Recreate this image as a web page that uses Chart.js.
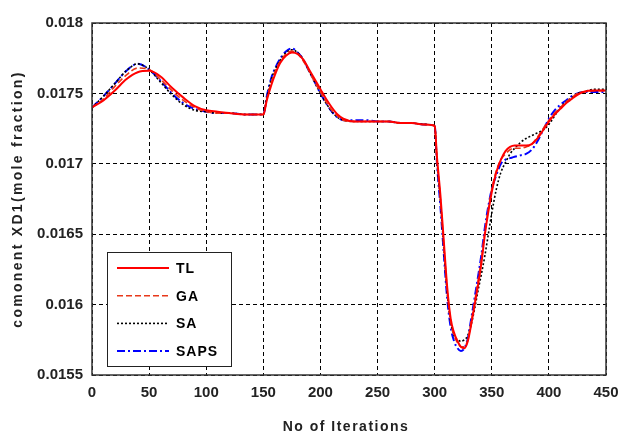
<!DOCTYPE html>
<html>
<head>
<meta charset="utf-8">
<script src="https://cdn.jsdelivr.net/npm/chart.js@4.4.1/dist/chart.umd.min.js"></script>
<style>
  html, body { margin: 0; padding: 0; background: #fff; }
  #wrap { width: 621px; height: 434px; }
</style>
</head>
<body>
<div id="wrap"><canvas id="xdChart" width="621" height="434"></canvas></div>
<script>
// iteration grid shared by all four runs
const iters = [0, 10, 20, 30, 40, 50, 60, 70, 80, 90, 100, 110, 120, 135, 150,
  153, 157, 161, 165, 170, 175, 180, 185, 190, 195, 200, 205, 210, 215, 220,
  230, 240, 250, 260, 270, 280, 290, 300, 302, 305, 308, 311, 314, 317, 320,
  323, 326, 329, 332, 335, 338, 341, 344, 347, 350, 354, 358, 362, 366, 370,
  375, 380, 385, 390, 395, 400, 405, 410, 415, 420, 425, 430, 440, 450];

const tl = [0.01740, 0.01745, 0.01752, 0.01760, 0.01765, 0.01766, 0.01762, 0.01754, 0.01747, 0.01741, 0.01738, 0.01737, 0.01736, 0.01735, 0.01735,
  0.01745, 0.01756, 0.01765, 0.01772, 0.01777, 0.01779, 0.01778, 0.01774, 0.01767, 0.01760, 0.01753, 0.01746, 0.01740, 0.01735, 0.01732,
  0.01730, 0.01730, 0.01730, 0.01730, 0.01729, 0.01729, 0.01728, 0.01727, 0.01705, 0.01678, 0.01645, 0.01612, 0.01590, 0.01580, 0.01574,
  0.01570, 0.01569, 0.01574, 0.01586, 0.01600, 0.01614, 0.01630, 0.01650, 0.01666, 0.01680, 0.01694, 0.01703, 0.01709, 0.01712, 0.01713,
  0.01713, 0.01713, 0.01714, 0.01718, 0.01724, 0.01730, 0.01735, 0.01739, 0.01743, 0.01746, 0.01749, 0.01751, 0.01752, 0.01752];

const ga = [0.01740, 0.01746, 0.01755, 0.01763, 0.01768, 0.01767, 0.01760, 0.01752, 0.01745, 0.01740, 0.01737, 0.01736, 0.01736, 0.01735, 0.01735,
  0.01746, 0.01758, 0.01767, 0.01773, 0.01778, 0.01780, 0.01778, 0.01773, 0.01766, 0.01758, 0.01751, 0.01744, 0.01738, 0.01734, 0.01731,
  0.01730, 0.01730, 0.01730, 0.01730, 0.01729, 0.01729, 0.01728, 0.01727, 0.01703, 0.01675, 0.01642, 0.01610, 0.01588, 0.01578, 0.01573,
  0.01570, 0.01570, 0.01575, 0.01588, 0.01602, 0.01617, 0.01633, 0.01652, 0.01668, 0.01682, 0.01695, 0.01703, 0.01707, 0.01710, 0.01711,
  0.01711, 0.01712, 0.01714, 0.01719, 0.01725, 0.01731, 0.01736, 0.01740, 0.01744, 0.01747, 0.01750, 0.01751, 0.01752, 0.01752];

const sa = [0.01740, 0.01748, 0.01757, 0.01766, 0.01771, 0.01767, 0.01758, 0.01749, 0.01742, 0.01738, 0.01737, 0.01736, 0.01736, 0.01735, 0.01735,
  0.01747, 0.01760, 0.01768, 0.01774, 0.01779, 0.01781, 0.01779, 0.01774, 0.01766, 0.01758, 0.01750, 0.01743, 0.01737, 0.01733, 0.01731,
  0.01730, 0.01730, 0.01730, 0.01730, 0.01729, 0.01729, 0.01728, 0.01727, 0.01702, 0.01674, 0.01640, 0.01608, 0.01588, 0.01578, 0.01575,
  0.01574, 0.01575, 0.01578, 0.01586, 0.01597, 0.01610, 0.01622, 0.01635, 0.01650, 0.01665, 0.01682, 0.01694, 0.01701, 0.01707, 0.01711,
  0.01715, 0.01718, 0.01720, 0.01722, 0.01724, 0.01728, 0.01734, 0.01740, 0.01744, 0.01747, 0.01750, 0.01751, 0.01753, 0.01753];

const saps = [0.01740, 0.01748, 0.01757, 0.01766, 0.01771, 0.01767, 0.01759, 0.01750, 0.01743, 0.01739, 0.01737, 0.01736, 0.01736, 0.01735, 0.01735,
  0.01748, 0.01761, 0.01769, 0.01775, 0.01780, 0.01782, 0.01779, 0.01774, 0.01766, 0.01758, 0.01750, 0.01743, 0.01737, 0.01733, 0.01731,
  0.01731, 0.01731, 0.01730, 0.01730, 0.01729, 0.01729, 0.01728, 0.01727, 0.01700, 0.01670, 0.01636, 0.01604, 0.01584, 0.01574, 0.01569,
  0.01567, 0.01569, 0.01576, 0.01590, 0.01605, 0.01620, 0.01636, 0.01655, 0.01670, 0.01682, 0.01692, 0.01700, 0.01703, 0.01704, 0.01705,
  0.01706, 0.01707, 0.01710, 0.01716, 0.01724, 0.01732, 0.01738, 0.01742, 0.01745, 0.01748, 0.01750, 0.01751, 0.01751, 0.01751];

const xTicks = [0, 50, 100, 150, 200, 250, 300, 350, 400, 450];
const yTicks = [0.0155, 0.016, 0.0165, 0.017, 0.0175, 0.018];
const yTickLabels = ['0.0155', '0.016', '0.0165', '0.017', '0.0175', '0.018'];

const seriesNames = ['TL', 'GA', 'SA', 'SAPS'];
const seriesColors = ['#ff0000', '#e8381a', '#000000', '#0000ff'];
const seriesDash = [[], [6, 3], [2, 2], [8, 3, 2, 3]];
const seriesWidth = [2, 1.6, 1.6, 2];

const xTitle = 'No of Iterations';
const yTitle = 'comonent XD1(mole fraction)';

const FONT = 'Liberation Sans, Arial, sans-serif';

function toPoints(vals) {
  return iters.map((x, i) => ({ x: x, y: vals[i] }));
}

// box around the axes, spaced-out axis titles and the legend in the lower left corner
const framePlugin = {
  id: 'frame',
  afterDatasetsDraw(chart) {
    const a = chart.chartArea;
    const ctx = chart.ctx;
    ctx.save();
    ctx.strokeStyle = '#333';
    ctx.lineWidth = 1.5;
    ctx.setLineDash([]);
    ctx.strokeRect(a.left, a.top, a.right - a.left, a.bottom - a.top);

    // axis titles
    ctx.fillStyle = '#222';
    ctx.font = 'bold 14px ' + FONT;
    ctx.textAlign = 'center';
    ctx.textBaseline = 'middle';
    ctx.letterSpacing = '1.5px';
    ctx.fillText(xTitle, (a.left + a.right) / 2 - 3, 427);
    ctx.save();
    ctx.translate(18, (a.top + a.bottom) / 2);
    ctx.rotate(-Math.PI / 2);
    ctx.letterSpacing = '2.3px';
    ctx.fillText(yTitle, 0, 0);
    ctx.restore();
    ctx.letterSpacing = '0px';

    // legend
    const bx = a.left + 15, by = a.bottom - 123, bw = 124, bh = 114;
    ctx.fillStyle = '#fff';
    ctx.fillRect(bx, by, bw, bh);
    ctx.lineWidth = 1;
    ctx.strokeStyle = '#222';
    ctx.strokeRect(bx + 0.5, by + 0.5, bw, bh);

    ctx.textAlign = 'left';
    ctx.letterSpacing = '1px';
    seriesNames.forEach((name, i) => {
      const y = by + 16 + i * 27.7;
      ctx.beginPath();
      ctx.strokeStyle = seriesColors[i];
      ctx.lineWidth = seriesWidth[i];
      ctx.setLineDash(seriesDash[i]);
      ctx.moveTo(bx + 10, y);
      ctx.lineTo(bx + 62, y);
      ctx.stroke();
      ctx.setLineDash([]);
      ctx.fillStyle = '#000';
      ctx.fillText(name, bx + 69, y + 1);
    });
    ctx.restore();
  }
};

new Chart(document.getElementById('xdChart'), {
  type: 'line',
  data: {
    datasets: seriesNames.map((name, i) => ({
      label: name,
      data: toPoints([tl, ga, sa, saps][i]),
      borderColor: seriesColors[i],
      borderWidth: seriesWidth[i],
      borderDash: seriesDash[i],
      pointRadius: 0,
      fill: false,
      cubicInterpolationMode: 'monotone'
    }))
  },
  options: {
    responsive: false,
    animation: false,
    layout: { padding: { top: 23, right: 15, left: 0, bottom: 0 } },
    plugins: {
      legend: { display: false },
      tooltip: { enabled: false }
    },
    scales: {
      x: {
        type: 'linear',
        min: 0,
        max: 450,
        afterBuildTicks: s => { s.ticks = xTicks.map(v => ({ value: v })); },
        afterFit: s => { s.height = 59; s.paddingLeft = 0; s.paddingRight = 0; },
        grid: { color: '#000', lineWidth: 1, drawTicks: false },
        border: { display: false, dash: [4, 3] },
        ticks: {
          color: '#222',
          padding: 9,
          maxRotation: 0,
          font: { family: FONT, size: 15, weight: 'bold' }
        }
      },
      y: {
        type: 'linear',
        min: 0.0155,
        max: 0.018,
        afterBuildTicks: s => { s.ticks = yTicks.map(v => ({ value: v })); },
        afterFit: s => { s.width = 92; s.paddingTop = 0; s.paddingBottom = 0; },
        grid: { color: '#000', lineWidth: 1, drawTicks: false },
        border: { display: false, dash: [4, 3] },
        ticks: {
          color: '#222',
          padding: 9,
          font: { family: FONT, size: 15, weight: 'bold' },
          callback: v => yTickLabels[yTicks.findIndex(t => Math.abs(t - v) < 1e-7)]
        }
      }
    }
  },
  plugins: [framePlugin]
});
</script>
</body>
</html>
